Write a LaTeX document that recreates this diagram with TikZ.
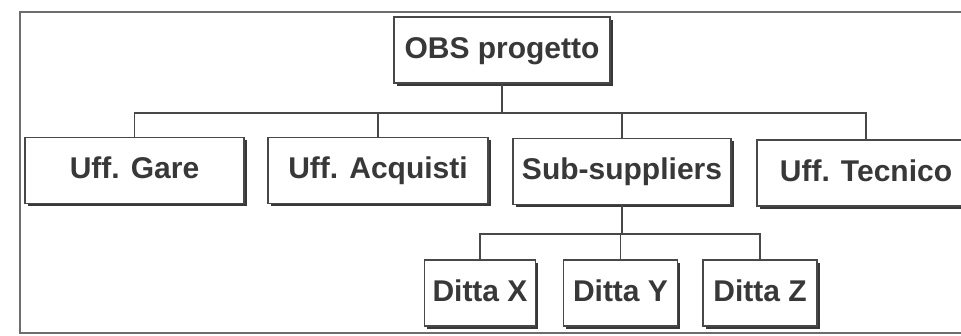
\documentclass[tikz,border=0pt]{standalone}
\usepackage{fontspec}
\setmainfont{Liberation Sans}
\usetikzlibrary{shadows}
\definecolor{ink}{HTML}{383838}
\definecolor{linec}{HTML}{484848}
\tikzset{
  box/.style={draw=linec, line width=1.5pt, fill=white, minimum height=66pt,
    inner sep=0pt, text=ink, text height=22pt, text depth=6pt,
    font=\fontsize{30}{36}\bfseries\selectfont,
    drop shadow={shadow xshift=2.5pt, shadow yshift=-2.5pt, opacity=1, fill=ink}},
  conn/.style={draw=linec, line width=1.4pt},
  frame/.style={draw=linec!80, line width=2pt}
}
\begin{document}
\begin{tikzpicture}[x=1pt,y=-1pt]
\useasboundingbox (0,0) rectangle (961,335);
\clip (0,0) rectangle (961,335);
\fill[white] (0,0) rectangle (961,335);
\draw[frame] (985,12) -- (20,12) -- (20,333) -- (985,333);
% level 0
\node[box, minimum width=216pt] (obs) at (502,50) {OBS progetto};
% level 1
\node[box, minimum width=219pt] (gare) at (134.5,170.5) {Uff. Gare};
\node[box, minimum width=220pt] (acq) at (378,170.5) {Uff. Acquisti};
\node[box, minimum width=218pt] (sub) at (622,171.5) {Sub-suppliers};
\node[box, minimum width=218pt] (tec) at (866,173) {Uff. Tecnico};
% level 2
\node[box, minimum width=111pt] (dx) at (480,293) {Ditta X};
\node[box, minimum width=114pt] (dy) at (620.5,293) {Ditta Y};
\node[box, minimum width=114pt] (dz) at (760,293) {Ditta Z};
% bus coordinates
\coordinate (b1) at (502,113);
\coordinate (b2) at (622,234);
% connectors level 1
\draw[conn] (obs.south) -- (b1);
\draw[conn] (gare.north) |- (b1);
\draw[conn] (acq.north) |- (b1);
\draw[conn] (sub.north) |- (b1);
\draw[conn] (tec.north) |- (b1);
% connectors level 2
\draw[conn] (sub.south) -- (b2);
\draw[conn] (dx.north) |- (b2);
\draw[conn] (dy.north) |- (b2);
\draw[conn] (dz.north) |- (b2);
\end{tikzpicture}
\end{document}
